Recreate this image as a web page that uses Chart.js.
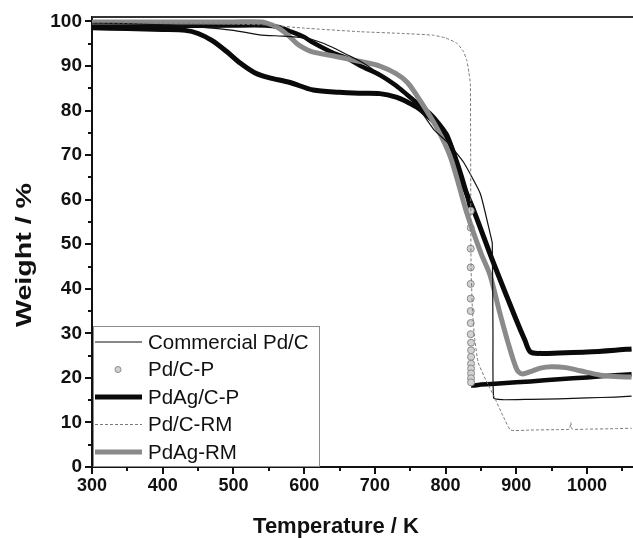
<!DOCTYPE html>
<html>
<head>
<meta charset="utf-8">
<script src="https://cdn.jsdelivr.net/npm/chart.js@4.4.1/dist/chart.umd.min.js"></script>
<style>
  html, body { margin: 0; padding: 0; background: #fff; }
  #wrap { width: 633px; height: 538px; }
</style>
</head>
<body>
<div id="wrap"><canvas id="tga"></canvas></div>
<script>
// TGA curves, temperature (K) vs weight (%)
const commT = [300, 350, 410, 450, 500, 537, 570, 600, 620, 640, 660, 680, 700, 720, 740, 760, 783, 805, 825, 849, 863, 866, 867, 868, 880, 920, 960, 1000, 1040, 1063];
const commW = [99.6, 99.5, 99.2, 98.8, 98.0, 97.0, 96.7, 96.3, 95.5, 94.2, 92.6, 91.0, 89.0, 87.0, 84.5, 81.0, 75.8, 72.5, 68.5, 61.4, 52.4, 50.2, 30.0, 15.5, 15.1, 15.2, 15.3, 15.5, 15.7, 15.9];

const pdcpT = [300, 400, 500, 545, 565, 580, 600, 613, 640, 661, 680, 707, 730, 746, 762, 778, 790, 802, 816, 826, 832,
  835.5, 835.5, 835.5, 835.5, 835.5, 835.5, 835.5, 835.5, 835.5,
  836, 836, 836, 836, 836, 836, 836, 836,
  836.5, 850, 880, 920, 960, 1000, 1040, 1063];
const pdcpW = [99.0, 99.0, 99.1, 99.1, 98.7, 97.8, 96.5, 95.2, 93.0, 91.7, 90.0, 88.0, 85.6, 83.5, 81.4, 79.3, 77.2, 74.5, 68.5, 63.5, 60.0,
  57.5, 53.7, 49.0, 44.8, 41.1, 37.8, 35.0, 32.3, 29.8,
  27.9, 26.2, 24.7, 23.2, 22.1, 21.0, 19.9, 19.0,
  18.3, 18.5, 18.8, 19.2, 19.7, 20.1, 20.6, 20.8];

const pdagcpT = [300, 350, 400, 432, 450, 470, 490, 510, 530, 550, 580, 613, 650, 680, 707, 730, 746, 762, 778, 790, 802, 812, 821, 840, 868, 900, 912, 920, 935, 960, 1000, 1040, 1063];
const pdagcpW = [98.6, 98.4, 98.2, 98.0, 97.3, 95.7, 93.3, 90.6, 88.5, 87.4, 86.3, 84.6, 84.1, 83.9, 83.8, 83.0, 81.9, 80.5, 78.3, 76.6, 74.0, 70.0, 64.8, 57.5, 45.7, 33.0, 28.5, 25.8, 25.5, 25.6, 25.8, 26.2, 26.5];

const pdcrmT = [300, 400, 500, 547, 600, 679, 740, 783, 800, 816, 825, 830, 833, 835, 835.5, 836, 838, 841, 846, 857, 868, 882, 892, 920, 960, 975, 977, 979, 1000, 1040, 1063];
const pdcrmW = [99.7, 99.6, 99.4, 99.2, 98.5, 97.7, 97.3, 96.9, 96.3, 95.1, 93.3, 91.3, 88.5, 86.0, 66.0, 45.0, 35.0, 29.0, 23.5, 19.5, 16.0, 11.2, 8.3, 8.3, 8.4, 8.5, 10.0, 8.5, 8.5, 8.6, 8.7];

const pdagrmT = [300, 400, 500, 540, 555, 566, 580, 590, 600, 613, 640, 661, 680, 707, 730, 746, 765, 788, 807, 830, 850, 863, 876, 890, 901, 908, 920, 934, 950, 970, 990, 1019, 1040, 1063];
const pdagrmW = [99.9, 99.9, 99.9, 99.9, 99.2, 98.3, 96.5, 95.0, 94.0, 93.1, 92.3, 91.6, 91.0, 90.0, 88.3, 86.3, 82.0, 76.0, 69.5, 57.0, 48.0, 43.0, 35.0, 27.0, 21.8, 20.9, 21.4, 22.2, 22.5, 22.3, 21.6, 20.6, 20.3, 20.2];

const xMajor = [300, 400, 500, 600, 700, 800, 900, 1000];
const xMinor = [350, 450, 550, 650, 750, 850, 950, 1050];
const yMajor = [0, 10, 20, 30, 40, 50, 60, 70, 80, 90, 100];
const yMinor = [5, 15, 25, 35, 45, 55, 65, 75, 85, 95];

const pts = (T, W) => T.map((t, i) => ({ x: t, y: W[i] }));
const inDrop = t => t >= 835 && t <= 836.5;

const FONT = '"Liberation Sans", Arial, sans-serif';

// tick marks of two lengths, axis titles, top frame line
const frame = {
  id: 'frame',
  afterDraw(chart) {
    const { ctx, chartArea: a, scales: { x, y } } = chart;
    ctx.save();
    ctx.strokeStyle = '#111';
    ctx.lineWidth = 2;
    ctx.beginPath();
    xMajor.forEach(v => { const p = Math.round(x.getPixelForValue(v)); ctx.moveTo(p, a.bottom); ctx.lineTo(p, a.bottom + 7); });
    xMinor.forEach(v => { const p = Math.round(x.getPixelForValue(v)); ctx.moveTo(p, a.bottom); ctx.lineTo(p, a.bottom + 4); });
    yMajor.forEach(v => { const p = Math.round(y.getPixelForValue(v)); ctx.moveTo(a.left, p); ctx.lineTo(a.left - 7, p); });
    yMinor.forEach(v => { const p = Math.round(y.getPixelForValue(v)); ctx.moveTo(a.left, p); ctx.lineTo(a.left - 4, p); });
    ctx.stroke();

    ctx.strokeStyle = '#333';
    ctx.beginPath();
    ctx.moveTo(a.left, a.top);
    ctx.lineTo(a.right, a.top);
    ctx.stroke();

    ctx.fillStyle = '#111';
    ctx.font = 'bold 22px ' + FONT;
    ctx.textAlign = 'center';
    ctx.textBaseline = 'alphabetic';
    ctx.fillText('Temperature / K', 336, 533);

    ctx.translate(31, 255);
    ctx.rotate(-Math.PI / 2);
    ctx.scale(1.3, 1);
    ctx.fillText('Weight / %', 0, 0);
    ctx.restore();
  }
};

// legend box sitting inside the plot, lower left
const boxLegend = {
  id: 'boxLegend',
  afterDatasetsDraw(chart) {
    const { ctx } = chart;
    const rows = [342, 369.5, 397, 424.5, 452];
    ctx.save();
    ctx.fillStyle = '#fff';
    ctx.fillRect(93, 327, 227, 140);
    ctx.strokeStyle = '#8c8c8c';
    ctx.lineWidth = 1;
    ctx.strokeRect(93.5, 326.5, 226, 140);
    chart.data.datasets.forEach((ds, i) => {
      const yy = rows[i];
      if (ds.legendDot) {
        ctx.beginPath();
        ctx.arc(118, yy, 3, 0, Math.PI * 2);
        ctx.fillStyle = ds.pointBackgroundColor;
        ctx.fill();
        ctx.strokeStyle = ds.pointBorderColor;
        ctx.lineWidth = 1;
        ctx.stroke();
      } else {
        ctx.beginPath();
        ctx.setLineDash(ds.borderDash || []);
        ctx.strokeStyle = ds.borderColor;
        ctx.lineWidth = ds.borderWidth;
        ctx.moveTo(95, yy);
        ctx.lineTo(142, yy);
        ctx.stroke();
        ctx.setLineDash([]);
      }
      ctx.fillStyle = '#111';
      ctx.font = '20.5px ' + FONT;
      ctx.textAlign = 'left';
      ctx.textBaseline = 'middle';
      ctx.fillText(ds.label, 148, yy + 1);
    });
    ctx.restore();
  }
};

new Chart(document.getElementById('tga'), {
  type: 'line',
  data: {
    datasets: [
      {
        label: 'Commercial Pd/C',
        data: pts(commT, commW),
        borderColor: '#111',
        borderWidth: 1.2,
        pointRadius: 0,
        tension: 0.15,
        order: 1
      },
      {
        label: 'Pd/C-P',
        data: pts(pdcpT, pdcpW),
        legendDot: true,
        borderColor: '#0a0a0a',
        borderWidth: 4.5,
        pointRadius: c => inDrop(pdcpT[c.dataIndex]) && pdcpT[c.dataIndex] < 836.5 ? 3.5 : 0,
        pointBackgroundColor: '#d2d2d2',
        pointBorderColor: '#8a8a8a',
        pointBorderWidth: 1,
        segment: {
          borderColor: c => inDrop(pdcpT[c.p0DataIndex]) && inDrop(pdcpT[c.p1DataIndex]) ? 'rgba(0,0,0,0)' : '#0a0a0a'
        },
        tension: 0.2,
        order: 3
      },
      {
        label: 'PdAg/C-P',
        data: pts(pdagcpT, pdagcpW),
        borderColor: '#0a0a0a',
        borderWidth: 5,
        pointRadius: 0,
        tension: 0.3,
        order: 4
      },
      {
        label: 'Pd/C-RM',
        data: pts(pdcrmT, pdcrmW),
        borderColor: '#7a7a7a',
        borderWidth: 1,
        borderDash: [3, 2],
        pointRadius: 0,
        tension: 0.15,
        order: 0
      },
      {
        label: 'PdAg-RM',
        data: pts(pdagrmT, pdagrmW),
        borderColor: '#8a8a8a',
        borderWidth: 5,
        pointRadius: 0,
        tension: 0.3,
        order: 2
      }
    ]
  },
  options: {
    responsive: true,
    maintainAspectRatio: false,
    animation: false,
    layout: { padding: { top: 17, right: 0, left: 0, bottom: 0 } },
    plugins: {
      legend: { display: false },
      tooltip: { enabled: false }
    },
    scales: {
      x: {
        type: 'linear',
        min: 300,
        max: 1065,
        afterFit: s => { s.height = 71; },
        afterBuildTicks: s => { s.ticks = xMajor.map(v => ({ value: v })); },
        ticks: { color: '#111', font: { family: FONT, size: 18, weight: 'bold' }, padding: 1, maxRotation: 0, autoSkip: false, callback: v => String(v) },
        grid: { drawOnChartArea: false, drawTicks: true, tickLength: 7, color: 'rgba(0,0,0,0)' },
        border: { display: true, color: '#111', width: 2 }
      },
      y: {
        min: 0,
        max: 101,
        afterFit: s => { s.width = 92; },
        afterBuildTicks: s => { s.ticks = yMajor.map(v => ({ value: v })); },
        ticks: { color: '#111', font: { family: FONT, size: 19, weight: 'bold' }, padding: 3, autoSkip: false, callback: v => String(v) },
        grid: { drawOnChartArea: false, drawTicks: true, tickLength: 7, color: 'rgba(0,0,0,0)' },
        border: { display: true, color: '#111', width: 2 }
      }
    }
  },
  plugins: [boxLegend, frame]
});
</script>
</body>
</html>
